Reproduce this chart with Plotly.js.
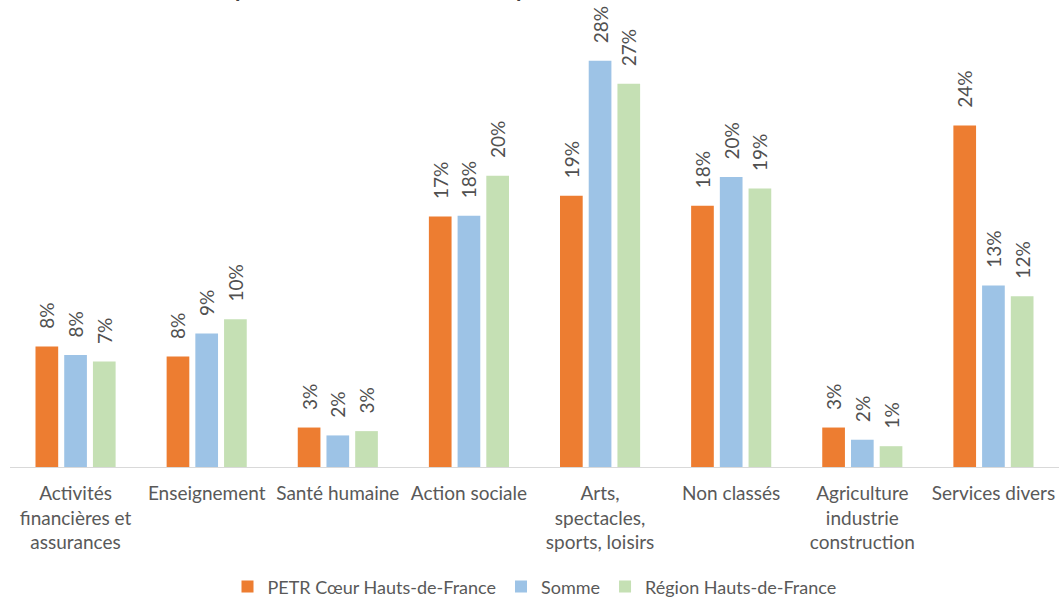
<!DOCTYPE html>
<html>
<head>
<meta charset="utf-8">
<script src="https://cdn.plot.ly/plotly-3.0.1.min.js"></script>
<style>
  html, body { margin: 0; padding: 0; background: #ffffff; }
  #chart { width: 1059px; height: 597px; }
</style>
</head>
<body>
<div id="chart"></div>
<script>
const categories = [
  "Activités<br>financières et<br>assurances",
  "Enseignement",
  "Santé humaine",
  "Action sociale",
  "Arts,<br>spectacles,<br>sports, loisirs",
  "Non classés",
  "Agriculture<br>industrie<br>construction",
  "Services divers"
];
const seriesNames = ["PETR Cœur Hauts-de-France", "Somme", "Région Hauts-de-France"];
const petrValues   = [8.4, 7.7, 2.75, 17.45, 18.9, 18.2, 2.75, 23.8];
const sommeValues  = [7.8, 9.3, 2.2, 17.5, 28.3, 20.2, 1.9, 12.65];
const regionValues = [7.35, 10.3, 2.5, 20.3, 26.7, 19.4, 1.45, 11.9];
const titleText = "Répartition des établissements par secteur d'activité";

const colors = ["#ED7D31", "#9DC3E6", "#C5E0B4"];
const allValues = [petrValues, sommeValues, regionValues];
const FONT = "Lato, 'Open Sans', sans-serif";
const PAD = "\u00A0\u00A0\u00A0";

const traces = allValues.map((vals, i) => ({
  type: "bar",
  name: seriesNames[i],
  x: categories,
  y: vals,
  marker: { color: colors[i], line: { width: 0 } },
  texttemplate: PAD + "%{y:.0f}%",
  textposition: "outside",
  textangle: -90,
  constraintext: "none",
  cliponaxis: false,
  textfont: { family: FONT, size: 19, color: "#505050" },
  hoverinfo: "skip"
}));

const layout = {
  width: 1059,
  height: 597,
  margin: { l: 10, r: 0, t: 0, b: 130 },
  paper_bgcolor: "#ffffff",
  plot_bgcolor: "#ffffff",
  font: { family: FONT, color: "#595959" },
  title: {
    text: titleText,
    font: { family: FONT, size: 22, color: "#404040", weight: "bold" },
    xref: "container", x: 0.439, xanchor: "center",
    yref: "container", y: 1, yanchor: "bottom",
    pad: { b: 3 }
  },
  barmode: "group",
  bargap: 0.343,
  bargroupgap: 0.21,
  xaxis: {
    type: "category",
    showline: true,
    linecolor: "#d9d9d9",
    linewidth: 1,
    ticks: "",
    ticklabelstandoff: 9,
    showgrid: false,
    zeroline: false,
    tickfont: { family: FONT, size: 19, color: "#595959" },
    fixedrange: true
  },
  yaxis: {
    visible: false,
    range: [0, 32.54],
    showgrid: false,
    zeroline: false,
    fixedrange: true
  },
  showlegend: true,
  legend: {
    orientation: "h",
    x: 0.5, xanchor: "center",
    yref: "container", y: 0.017, yanchor: "middle",
    font: { family: FONT, size: 18, color: "#595959" },
    itemwidth: 30,
    traceorder: "normal"
  }
};

Plotly.newPlot("chart", traces, layout, { displayModeBar: false, staticPlot: true });
</script>
</body>
</html>
